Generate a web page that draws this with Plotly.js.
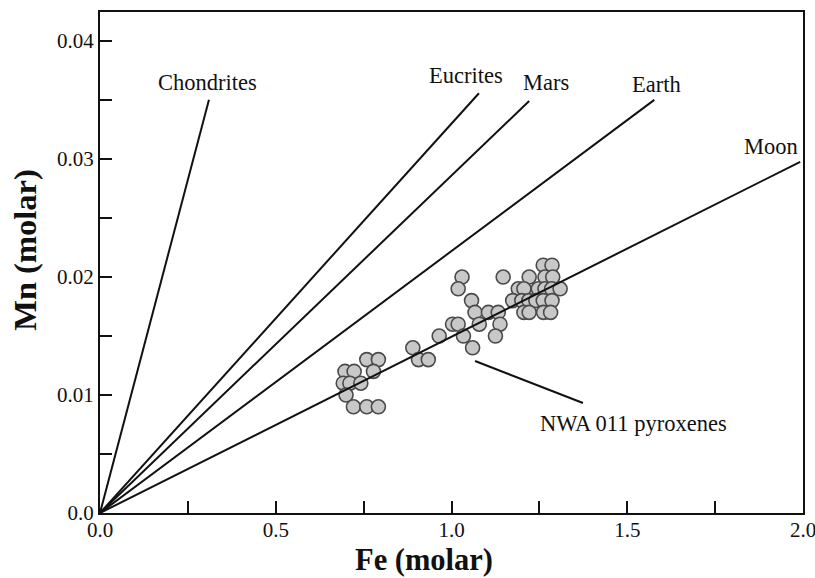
<!DOCTYPE html>
<html>
<head>
<meta charset="utf-8">
<script src="https://cdn.plot.ly/plotly-3.0.1.min.js"></script>
<style>
  html, body { margin: 0; padding: 0; background: #fff; }
  #chart { width: 815px; height: 578px; }
</style>
</head>
<body>
<div id="chart"></div>
<script>
// NWA 011 pyroxene analyses (molar Fe vs. molar Mn)
const pyxFe = [
  1.261, 1.286,
  1.030, 1.147, 1.221, 1.266, 1.288,
  1.019, 1.190, 1.206, 1.247, 1.266, 1.285, 1.309,
  1.057, 1.174, 1.200, 1.220, 1.240, 1.261, 1.286,
  1.067, 1.105, 1.133, 1.206, 1.221, 1.262, 1.282,
  1.003, 1.019, 1.079, 1.138,
  0.965, 1.034, 1.125,
  0.890, 1.060,
  0.759, 0.792, 0.906, 0.934,
  0.697, 0.723, 0.778,
  0.692, 0.711, 0.742,
  0.700,
  0.721, 0.759, 0.792
];
const pyxMn = [
  0.021, 0.021,
  0.020, 0.020, 0.020, 0.020, 0.020,
  0.019, 0.019, 0.019, 0.019, 0.019, 0.019, 0.019,
  0.018, 0.018, 0.018, 0.018, 0.018, 0.018, 0.018,
  0.017, 0.017, 0.017, 0.017, 0.017, 0.017, 0.017,
  0.016, 0.016, 0.016, 0.016,
  0.015, 0.015, 0.015,
  0.014, 0.014,
  0.013, 0.013, 0.013, 0.013,
  0.012, 0.012, 0.012,
  0.011, 0.011, 0.011,
  0.010,
  0.009, 0.009, 0.009
];

// Planetary Mn/Fe trend lines (through the origin)
const trendNames  = ["Chondrites", "Eucrites", "Mars", "Earth", "Moon"];
const trendSlopes = [0.1130, 0.0330, 0.0286, 0.0222, 0.01494];
const trendEndFe  = [0.310, 1.078, 1.221, 1.577, 1.992];

// Axis ticks
const xTickVals = [0, 0.25, 0.5, 0.75, 1.0, 1.25, 1.5, 1.75, 2.0];
const xTickText = ["0.0", "", "0.5", "", "1.0", "", "1.5", "", "2.0"];
const yTickVals = [0, 0.005, 0.01, 0.015, 0.02, 0.025, 0.03, 0.035, 0.04];
const yTickText = ["0.0", "", "0.01", "", "0.02", "", "0.03", "", "0.04"];

const xTitle = "Fe (molar)";
const yTitle = "Mn (molar)";
const sampleLabel = "NWA 011 pyroxenes";

const serif = "Liberation Serif, Times New Roman, serif";
const ink = "#111";

const traces = [];
traces.push({
  type: "scatter", mode: "markers", x: pyxFe, y: pyxMn,
  marker: { size: 14, color: "#c8c8c8", line: { color: "#4a4a4a", width: 1.6 } },
  hoverinfo: "x+y", showlegend: false
});
trendNames.forEach((name, i) => {
  traces.push({
    type: "scatter", mode: "lines", name: name,
    x: [0, trendEndFe[i]], y: [0, trendSlopes[i] * trendEndFe[i]],
    line: { color: ink, width: 2 }, showlegend: false
  });
});

// Label placement for each trend line
const labelPos = {
  Chondrites: [0.307, 0.0365],
  Eucrites:   [1.041, 0.0371],
  Mars:       [1.269, 0.0365],
  Earth:      [1.582, 0.0363],
  Moon:       [1.909, 0.0311]
};
const labelFont = { family: serif, size: 22.5, color: ink };
const annotations = trendNames.map(name => ({
  x: labelPos[name][0], y: labelPos[name][1], xref: "x", yref: "y",
  text: name, showarrow: false, font: labelFont
}));
annotations.push({
  x: 1.517, y: 0.0076, xref: "x", yref: "y",
  text: sampleLabel, showarrow: false, font: labelFont
});

// Axis titles
annotations.push({
  x: 0.461, y: 0, xref: "paper", yref: "paper",
  text: "<b>" + xTitle + "</b>", showarrow: false,
  font: { family: serif, size: 30.5, color: ink },
  xanchor: "center", yanchor: "top", yshift: -29, borderpad: 0
});
annotations.push({
  x: -0.107, y: 0.525, xref: "paper", yref: "paper",
  text: "<b>" + yTitle + "</b>", showarrow: false,
  font: { family: serif, size: 32.5, color: ink },
  textangle: -90, xanchor: "center", yanchor: "middle"
});

// Leader line to the sample label
const shapes = [{
  type: "line", xref: "x", yref: "y",
  x0: 1.067, y0: 0.01288, x1: 1.374, y1: 0.00932,
  line: { color: ink, width: 2 }
}];

const axisCommon = {
  showgrid: false, zeroline: false,
  showline: true, linecolor: ink, linewidth: 2, mirror: true,
  ticks: "inside", ticklen: 12, tickwidth: 2, tickcolor: ink,
  tickmode: "array", ticklabeloverflow: "allow",
  tickfont: { family: serif, size: 21, color: ink }
};

const layout = {
  width: 815, height: 578,
  margin: { l: 100, r: 12, t: 12, b: 65 },
  paper_bgcolor: "#fff", plot_bgcolor: "#fff",
  xaxis: Object.assign({}, axisCommon, {
    range: [0, 2.0], tickvals: xTickVals, ticktext: xTickText,
    ticklabelstandoff: -3
  }),
  yaxis: Object.assign({}, axisCommon, {
    range: [0, 0.04246], tickvals: yTickVals, ticktext: yTickText
  }),
  annotations: annotations,
  shapes: shapes
};

Plotly.newPlot("chart", traces, layout, { displayModeBar: false, staticPlot: true });
</script>
</body>
</html>
